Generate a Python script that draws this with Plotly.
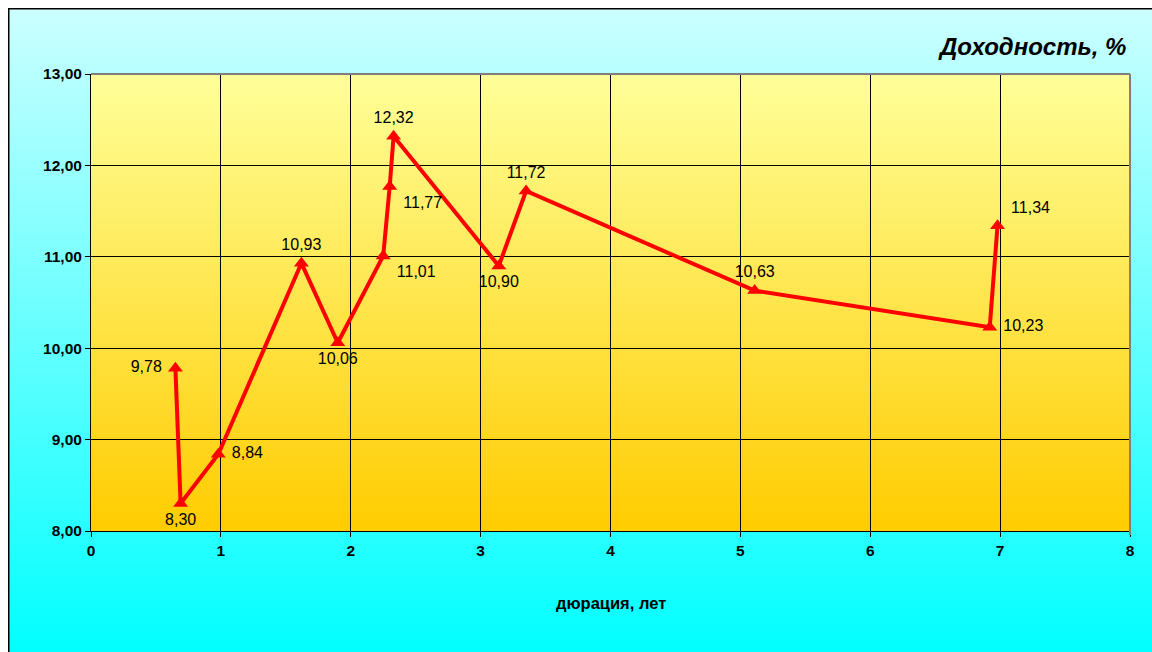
import base64
import plotly.graph_objects as go

duration = [0.65, 0.69, 0.98, 1.62, 1.90, 2.25, 2.30, 2.33, 3.14, 3.35, 5.11, 6.92, 6.98]
yield_pct = [9.78, 8.30, 8.84, 10.93, 10.06, 11.01, 11.77, 12.32, 10.90, 11.72, 10.63, 10.23, 11.34]
label_pos = ["middle left", "bottom center", "middle right", "top center", "bottom center",
             "bottom right", "bottom right", "top center", "bottom center", "top center",
             "top center", "middle right", "top right"]
x_ticks = [0, 1, 2, 3, 4, 5, 6, 7, 8]
y_ticks = [8, 9, 10, 11, 12, 13]
y_ticktext = ["8,00", "9,00", "10,00", "11,00", "12,00", "13,00"]
title_text = "Доходность, %"
x_title = "дюрация, лет"


def grad_uri(c1, c2):
    svg = ('<svg xmlns="http://www.w3.org/2000/svg" width="100" height="100" preserveAspectRatio="none">'
           '<defs><linearGradient id="g" x1="0" y1="0" x2="0" y2="1">'
           f'<stop offset="0" stop-color="{c1}"/><stop offset="1" stop-color="{c2}"/>'
           '</linearGradient></defs><rect width="100" height="100" fill="url(#g)"/></svg>')
    return "data:image/svg+xml;base64," + base64.b64encode(svg.encode()).decode()


labels = [f"{v:.2f}".replace(".", ",") for v in yield_pct]
FONT = "Liberation Sans, Arial"

fig = go.Figure()
fig.add_trace(go.Scatter(
    x=duration, y=yield_pct, mode="lines+markers+text",
    line=dict(color="#FF0000", width=4),
    marker=dict(symbol="triangle-up", size=13, color="#FF0000"),
    text=[" " + t + " " for t in labels], textposition=label_pos,
    textfont=dict(family=FONT, size=16, color="#000000"),
    cliponaxis=False, showlegend=False,
))

W, H = 1152, 652
L, R, T, B = 91, 22, 74, 121
PW, PH = W - L - R, H - T - B
OFF = 8  # white strip before the chart frame

fig.update_layout(
    width=W, height=H,
    margin=dict(l=L, r=R, t=T, b=B),
    paper_bgcolor="#FFFFFF",
    plot_bgcolor="rgba(0,0,0,0)",
    font=dict(family=FONT, color="#000000"),
    images=[
        dict(source=grad_uri("#CCFFFF", "#00FFFF"), xref="paper", yref="paper",
             x=-(L - OFF) / PW, y=1 + (T - OFF) / PH,
             sizex=(W - OFF + 4) / PW, sizey=(H - OFF + 4) / PH,
             sizing="stretch", layer="below", xanchor="left", yanchor="top"),
        dict(source=grad_uri("#FFFF99", "#FFCC00"), xref="x", yref="y",
             x=0, y=13, sizex=8, sizey=5, sizing="stretch", layer="below",
             xanchor="left", yanchor="top"),
    ],
    xaxis=dict(range=[0, 8], tickvals=x_ticks, ticks="outside", ticklen=5, tickcolor="#000",
               showgrid=True, gridcolor="#000000", gridwidth=1, zeroline=False,
               showline=True, linecolor="#000000", linewidth=1,
               tickfont=dict(size=15.5, family=FONT, weight="bold")),
    yaxis=dict(range=[8, 13], tickvals=y_ticks, ticktext=y_ticktext, ticks="outside", ticklen=5,
               tickcolor="#000", showgrid=True, gridcolor="#000000", gridwidth=1, zeroline=False,
               showline=True, linecolor="#000000", linewidth=1,
               tickfont=dict(size=15.5, family=FONT, weight="bold")),
    shapes=[
        dict(type="line", xref="paper", yref="paper", x0=0, x1=1, y0=1, y1=1,
             line=dict(color="#808080", width=2)),
        dict(type="line", xref="paper", yref="paper", x0=1, x1=1, y0=-4 / PH, y1=1,
             line=dict(color="#808080", width=2)),
        dict(type="rect", xref="paper", yref="paper",
             x0=-(L - OFF - 0.75) / PW, x1=1 + (R + 20) / PW,
             y0=-(B + 20) / PH, y1=1 + (T - OFF - 0.75) / PH,
             line=dict(color="#000000", width=1.5), fillcolor="rgba(0,0,0,0)"),
    ],
    annotations=[
        dict(text=f"<b><i>{title_text}</i></b>", xref="paper", yref="paper",
             x=1 - 2 / PW, y=1 + 28 / PH, xanchor="right", yanchor="middle",
             showarrow=False, font=dict(size=24, family=FONT)),
        dict(text=f"<b>{x_title}</b>", xref="paper", yref="paper",
             x=0.5, y=-72 / PH, xanchor="center", yanchor="middle",
             showarrow=False, font=dict(size=16.5, family=FONT)),
    ],
)

fig.write_html("out.html", config={"displayModeBar": False},
               post_script="document.body.style.margin='0';document.body.style.overflow='hidden';")
